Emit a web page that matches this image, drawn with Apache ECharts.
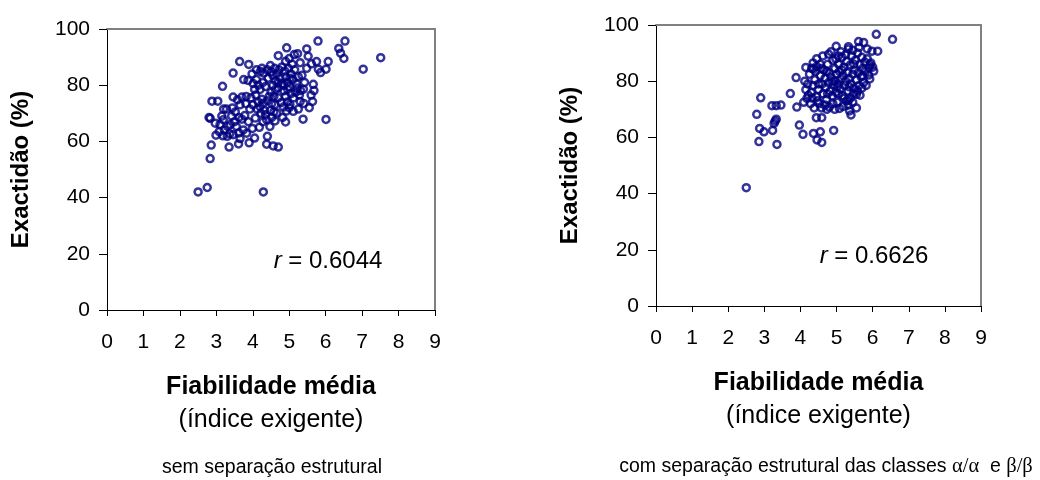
<!DOCTYPE html>
<html>
<head>
<meta charset="utf-8">
<title>Exactidão vs Fiabilidade média</title>
<script src="https://cdn.jsdelivr.net/npm/echarts@6/dist/echarts.min.js"></script>
<style>
  html, body { margin: 0; padding: 0; background: #fff; }
  #main { width: 1040px; height: 480px; }
</style>
</head>
<body>
<div id="main"></div>
<script>
// [fiabilidade média, exactidão %] - sem separação estrutural
const pontosSem = [
  [2.50, 42.0], [2.75, 43.6], [4.29, 42.0], [2.83, 53.9], [2.86, 58.7], [3.35, 58.0], [3.61, 59.1],
  [3.90, 59.5], [4.38, 59.0], [4.56, 58.4], [4.70, 58.0], [4.90, 66.9], [5.38, 67.9], [6.01, 67.8],
  [2.99, 62.2], [2.80, 68.5], [2.83, 68.2], [2.97, 66.5], [3.19, 67.7], [3.22, 64.1], [3.31, 65.3],
  [3.37, 62.7], [3.55, 65.3], [3.70, 67.9], [3.74, 64.1], [3.83, 62.9], [3.99, 64.6], [4.05, 61.2],
  [3.30, 61.8], [3.46, 62.4], [3.20, 71.5], [3.28, 71.5], [3.44, 71.9], [2.88, 74.3], [3.04, 74.3],
  [3.46, 75.8], [3.17, 79.6], [3.46, 84.3], [3.64, 88.4], [3.89, 87.4],
  [3.75, 82.0], [3.87, 81.7], [4.01, 80.6], [3.82, 76.0], [3.70, 75.8], [3.81, 73.4], [3.92, 71.5],
  [4.07, 68.3], [4.20, 72.4], [4.29, 73.6], [4.38, 67.7], [4.47, 65.3], [4.61, 67.3], [4.40, 61.8],
  [4.10, 85.5], [4.21, 84.9], [4.30, 84.3], [4.51, 84.7], [4.70, 90.5], [4.93, 93.3], [5.14, 90.9],
  [5.23, 91.2], [5.48, 92.9], [5.52, 90.3], [5.61, 87.6], [5.75, 88.4], [5.80, 85.7], [5.86, 84.5],
  [6.01, 85.7], [6.07, 88.4], [5.79, 95.7], [6.36, 93.1], [6.41, 91.4], [6.50, 89.5], [6.53, 95.7],
  [7.03, 85.7], [7.51, 89.8],
  [5.66, 80.3], [5.68, 78.1], [5.64, 74.2], [5.30, 74.2], [5.39, 78.6], [5.31, 78.1], [5.11, 70.7],
  [5.02, 73.1], [4.84, 72.2], [4.66, 70.1], [4.61, 73.1],
  [4.55, 80.0], [4.62, 81.5], [4.70, 79.0], [4.75, 82.5], [4.80, 80.5], [4.85, 78.0], [4.90, 83.0],
  [4.95, 81.0], [5.00, 79.5], [5.05, 84.0], [5.10, 82.0], [4.50, 77.5], [4.58, 76.0], [4.66, 84.0],
  [4.72, 85.5], [4.80, 86.5], [4.88, 85.0], [4.98, 86.0], [5.08, 87.5], [5.15, 85.5], [5.20, 80.5],
  [5.25, 83.0], [5.18, 77.5], [5.28, 76.5], [4.42, 82.5], [4.35, 79.5], [4.28, 81.0], [4.20, 78.5],
  [4.45, 76.0], [4.40, 74.5], [4.52, 73.5], [4.32, 71.0], [4.25, 75.0], [4.15, 74.0], [4.08, 76.5],
  [4.00, 73.0], [3.95, 75.5], [4.12, 71.5], [4.22, 70.0], [4.35, 69.5], [4.48, 71.0], [4.58, 70.5],
  [4.70, 75.5], [4.78, 73.8], [4.90, 76.0], [4.95, 74.0], [5.05, 77.0], [5.12, 75.5], [4.62, 78.5],
  [4.85, 80.0], [4.96, 78.5], [5.02, 82.5], [4.70, 81.0], [4.55, 83.5], [4.40, 85.5], [4.48, 87.0],
  [4.60, 86.0], [4.90, 88.5], [5.00, 89.5], [4.25, 86.0], [4.10, 82.0], [3.98, 84.0], [4.05, 78.5],
  [4.15, 80.0], [3.65, 73.0], [3.58, 74.8], [3.52, 70.5], [3.62, 68.5], [3.78, 69.2], [3.88, 67.0],
  [3.42, 69.0], [3.50, 67.0], [3.10, 66.0], [3.08, 63.5], [3.18, 62.0], [3.38, 66.0], [3.62, 63.0],
  [3.65, 61.0], [3.15, 69.0], [4.18, 65.0], [4.28, 67.0], [4.52, 68.5], [5.35, 83.5], [5.42, 81.0],
  [5.48, 86.0], [5.30, 88.0], [5.40, 73.5], [5.55, 72.0], [5.22, 79.0], [5.60, 76.5], [4.82, 68.5],
  [4.92, 70.8], [5.00, 72.0], [5.25, 71.5]
];

// [fiabilidade média, exactidão %] - com separação das classes α/α e β/β
const pontosCom = [
  [2.50, 42.1], [2.85, 58.5], [3.35, 57.5], [2.87, 63.2], [2.99, 62.0], [3.23, 62.5], [3.27, 65.0],
  [3.33, 66.5], [3.30, 65.8], [2.79, 68.2], [2.90, 74.1], [3.21, 71.3], [3.33, 71.3], [3.46, 71.5],
  [3.72, 75.6], [3.88, 81.3], [3.90, 70.8], [3.97, 64.4], [4.07, 61.1], [4.36, 61.4], [4.55, 62.0],
  [4.46, 59.1], [4.59, 58.2], [4.92, 62.5], [4.44, 67.0], [4.59, 67.0], [4.73, 70.0], [5.08, 70.3],
  [5.36, 69.4], [5.40, 68.0], [4.09, 72.5], [4.18, 73.9], [4.15, 84.9], [4.36, 84.3], [4.78, 89.6],
  [4.99, 92.4], [5.33, 92.3], [5.33, 91.5], [5.61, 94.1], [5.75, 93.8], [6.10, 96.7], [6.55, 94.9],
  [5.98, 90.7], [6.14, 90.7], [6.03, 83.6], [5.93, 85.8], [5.89, 82.2], [5.47, 75.7], [5.55, 75.3],
  [5.21, 73.9], [5.33, 73.3], [4.31, 84.6], [4.45, 85.2],
  [4.30, 76.0], [4.35, 78.5], [4.40, 80.5], [4.45, 74.5], [4.50, 77.0], [4.55, 82.0], [4.60, 79.0],
  [4.62, 75.5], [4.65, 84.0], [4.68, 81.0], [4.70, 77.8], [4.72, 73.5], [4.75, 86.0], [4.78, 79.5],
  [4.80, 83.0], [4.82, 76.5], [4.85, 81.5], [4.88, 74.8], [4.90, 87.5], [4.92, 78.8], [4.95, 84.5],
  [4.96, 80.2], [4.98, 76.0], [5.00, 82.5], [5.02, 72.5], [5.05, 79.0], [5.06, 86.0], [5.08, 83.5],
  [5.10, 77.2], [5.12, 80.8], [5.15, 88.5], [5.16, 74.8], [5.18, 82.0], [5.20, 85.0], [5.22, 78.5],
  [5.25, 80.0], [5.28, 87.0], [5.30, 83.0], [5.32, 76.5], [5.35, 81.0], [5.38, 85.8], [5.40, 79.0],
  [5.42, 89.0], [5.45, 82.5], [5.48, 77.5], [5.50, 84.0], [5.52, 87.5], [5.55, 80.5], [5.58, 90.0],
  [5.60, 83.0], [5.62, 78.5], [5.65, 86.0], [5.68, 81.5], [5.70, 88.5], [5.72, 84.5], [5.75, 79.5],
  [5.78, 86.8], [5.80, 83.5], [5.85, 88.0], [5.90, 84.8], [5.95, 86.5], [6.00, 85.0],
  [4.25, 82.5], [4.20, 79.0], [4.15, 77.0], [4.22, 75.0], [4.28, 72.0], [4.12, 80.0], [4.35, 86.5],
  [4.45, 88.0], [4.55, 86.0], [4.62, 89.0], [4.38, 70.5], [4.52, 72.0], [4.58, 70.5], [4.68, 71.5],
  [4.80, 70.8], [4.90, 72.0], [4.95, 70.0], [5.05, 75.5], [5.18, 71.0], [5.28, 73.0], [5.38, 74.0],
  [5.45, 72.5], [5.58, 76.5], [5.65, 75.0], [5.70, 77.5], [5.35, 78.0], [5.15, 84.0], [5.25, 89.5],
  [5.05, 89.0], [4.85, 90.5], [5.45, 91.0], [5.62, 92.0], [5.85, 91.5], [4.72, 83.5], [4.88, 80.0],
  [5.02, 78.0], [4.58, 84.5], [4.42, 83.5], [4.50, 79.0], [4.98, 88.0], [5.12, 90.5], [5.48, 86.0],
  [5.72, 82.0], [5.92, 80.8], [5.82, 78.5], [4.32, 74.0], [4.48, 73.0], [4.75, 75.5], [5.32, 71.5],
  [5.55, 70.5]
];

const coeficientes = ['0.6044', '0.6626'];
const legendas = ['sem separação estrutural', 'com separação estrutural das classes {g|α/α}  e {g|β/β}'];

const xMax = 9;
const yMax = 100;
const yStep = 20;

const fonte = '"Liberation Sans", Arial, sans-serif';
const azul = '#000080';

const chart = echarts.init(document.getElementById('main'));

function eixoX (gridIndex) {
  return {
    gridIndex: gridIndex,
    type: 'value',
    min: 0,
    max: xMax,
    interval: 1,
    axisLine: { show: true, onZero: false, lineStyle: { color: '#000', width: 1 } },
    axisTick: { show: true, length: 6, lineStyle: { color: '#000' } },
    axisLabel: { margin: 22, fontSize: 21, color: '#000', fontFamily: fonte },
    splitLine: { show: false },
    name: '{b|Fiabilidade média}\n{n|(índice exigente)}',
    nameLocation: 'middle',
    nameGap: 61,
    nameTextStyle: {
      rich: {
        b: { fontSize: 25, fontWeight: 'bold', fontFamily: fonte, color: '#000', lineHeight: 33 },
        n: { fontSize: 25, fontFamily: fonte, color: '#000', lineHeight: 33 }
      }
    }
  };
}

function eixoY (gridIndex) {
  return {
    gridIndex: gridIndex,
    type: 'value',
    min: 0,
    max: yMax,
    interval: yStep,
    axisLine: { show: true, onZero: false, lineStyle: { color: '#000', width: 1 } },
    axisTick: { show: true, length: 8, lineStyle: { color: '#000' } },
    axisLabel: { margin: 17, fontSize: 21, color: '#000', fontFamily: fonte },
    splitLine: { show: false },
    name: 'Exactidão (%)',
    nameLocation: 'middle',
    nameRotate: 90,
    nameGap: 74,
    nameTextStyle: { fontSize: 24, fontWeight: 'bold', fontFamily: fonte, color: '#000' }
  };
}

// moldura cinzenta (topo e direita) da área do gráfico
function moldura (gridIndex, tipo) {
  return {
    gridIndex: gridIndex,
    type: 'value',
    position: tipo === 'x' ? 'top' : 'right',
    min: 0,
    max: tipo === 'x' ? xMax : yMax,
    axisLine: { show: true, onZero: false, lineStyle: { color: '#808080', width: 2 } },
    axisTick: { show: false },
    axisLabel: { show: false },
    splitLine: { show: false }
  };
}

function serie (dados, i) {
  return {
    type: 'scatter',
    xAxisIndex: i * 2,
    yAxisIndex: i * 2,
    data: dados,
    symbol: 'circle',
    symbolSize: 7,
    itemStyle: { color: 'rgba(0,0,0,0)', borderColor: azul, borderWidth: 2.5 },
    emphasis: { disabled: true },
    animation: false
  };
}

function textoR (i, x, y) {
  return {
    type: 'text',
    x: x,
    y: y,
    style: {
      text: '{i|r} = ' + coeficientes[i],
      fontSize: 24,
      fontFamily: fonte,
      fill: '#000',
      align: 'center',
      verticalAlign: 'middle',
      rich: { i: { fontStyle: 'italic', fontSize: 24, fontFamily: fonte, fill: '#000' } }
    }
  };
}

function legenda (i, x, y) {
  return {
    type: 'text',
    x: x,
    y: y,
    style: {
      text: legendas[i],
      fontSize: 19.5,
      fontFamily: fonte,
      fill: '#000',
      align: 'center',
      verticalAlign: 'middle',
      rich: { g: { fontSize: 20.5, fontFamily: '"Liberation Serif", serif', fill: '#000' } }
    }
  };
}

const option = {
  backgroundColor: '#fff',
  animation: false,
  grid: [
    { left: 107, right: 605, top: 29, bottom: 170 },
    { left: 656, right: 59, top: 25, bottom: 174 }
  ],
  xAxis: [eixoX(0), moldura(0, 'x'), eixoX(1), moldura(1, 'x')],
  yAxis: [eixoY(0), moldura(0, 'y'), eixoY(1), moldura(1, 'y')],
  series: [serie(pontosSem, 0), serie(pontosCom, 1)],
  graphic: [
    textoR(0, 328, 261),
    textoR(1, 874, 256),
    legenda(0, 272, 468),
    legenda(1, 826, 467)
  ]
};

chart.setOption(option);
</script>
</body>
</html>
